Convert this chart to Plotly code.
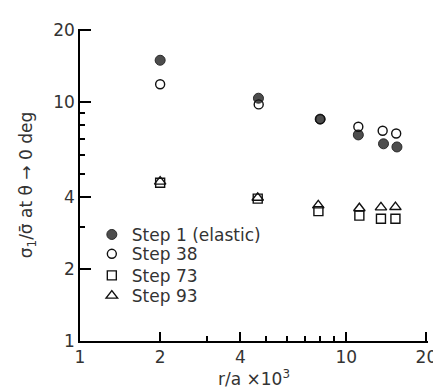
import plotly.graph_objects as go

# ---- data ----
step_names = ["Step 1 (elastic)", "Step 38", "Step 73", "Step 93"]

x_step1 = [2.0, 4.68, 7.98, 11.1, 13.8, 15.5]
y_step1 = [15.0, 10.4, 8.5, 7.3, 6.7, 6.5]

x_step38 = [2.0, 4.69, 7.98, 11.1, 13.7, 15.4]
y_step38 = [11.9, 9.8, 8.5, 7.9, 7.6, 7.4]

x_step73 = [2.0, 4.65, 7.86, 11.2, 13.5, 15.3]
y_step73 = [4.6, 3.95, 3.5, 3.35, 3.25, 3.25]

x_step93 = [2.0, 4.65, 7.85, 11.2, 13.5, 15.3]
y_step93 = [4.65, 3.98, 3.7, 3.6, 3.63, 3.64]

major_labels = ["1", "2", "4", "10", "20"]
major_ticks = [float(t) for t in major_labels]

FONT = "DejaVu Sans"
INK = "black"
TXT = "#333333"

legend_ids = ["legend", "legend2", "legend3", "legend4"]
legend_y = [0.340, 0.278, 0.209, 0.144]

fig = go.Figure()
fig.add_trace(go.Scatter(
    x=x_step1, y=y_step1, mode="markers", name=step_names[0], legend=legend_ids[0],
    marker=dict(symbol="circle", size=10, color="#4d4d4d",
                line=dict(color="#2a2a2a", width=1))))
fig.add_trace(go.Scatter(
    x=x_step38, y=y_step38, mode="markers", name=step_names[1], legend=legend_ids[1],
    marker=dict(symbol="circle-open", size=9, color="#111",
                line=dict(color="#111", width=1.4))))
fig.add_trace(go.Scatter(
    x=x_step73, y=y_step73, mode="markers", name=step_names[2], legend=legend_ids[2],
    marker=dict(symbol="square-open", size=9, color="#111",
                line=dict(color="#111", width=1.4))))
fig.add_trace(go.Scatter(
    x=x_step93, y=y_step93, mode="markers", name=step_names[3], legend=legend_ids[3],
    marker=dict(symbol="triangle-up-open", size=10, color="#111",
                line=dict(color="#111", width=1.4))))

fig.update_xaxes(
    type="log", range=[0, 1.307], showgrid=False, zeroline=False,
    showline=True, linecolor=INK, linewidth=1.5,
    ticks="inside", ticklen=9, tickcolor=INK, tickwidth=2,
    tickmode="array", tickvals=major_ticks,
    tickfont=dict(family=FONT, size=17, color=TXT),
    minor=dict(dtick="D1", ticks="inside", ticklen=5, tickcolor=INK, tickwidth=1.5),
    title=dict(text="r/a ×10<sup>3</sup>",
               font=dict(family=FONT, size=17, color=TXT), standoff=6))

fig.update_yaxes(
    type="log", range=[0, 1.307], showgrid=False, zeroline=False,
    showline=True, linecolor=INK, linewidth=1.5,
    ticks="inside", ticklen=11, tickcolor=INK, tickwidth=2,
    tickmode="array", tickvals=major_ticks,
    tickfont=dict(family=FONT, size=17, color=TXT),
    minor=dict(dtick="D1", ticks="inside", ticklen=5, tickcolor=INK, tickwidth=1.5),
    title=dict(text="σ<sub>1</sub>/σ\u0304 at θ → 0 deg",
               font=dict(family=FONT, size=17, color=TXT), standoff=16))

legend_style = dict(x=0.034, xanchor="left", yanchor="middle",
                    bgcolor="rgba(0,0,0,0)", borderwidth=0,
                    font=dict(family=FONT, size=17, color=TXT),
                    itemsizing="trace")

fig.update_layout(
    width=441, height=389,
    margin=dict(l=72, r=13, t=16, b=52),
    paper_bgcolor="white", plot_bgcolor="white",
    showlegend=True,
    legend=dict(y=legend_y[0], **legend_style),
    legend2=dict(y=legend_y[1], **legend_style),
    legend3=dict(y=legend_y[2], **legend_style),
    legend4=dict(y=legend_y[3], **legend_style),
)

fig.write_html("out.html")
